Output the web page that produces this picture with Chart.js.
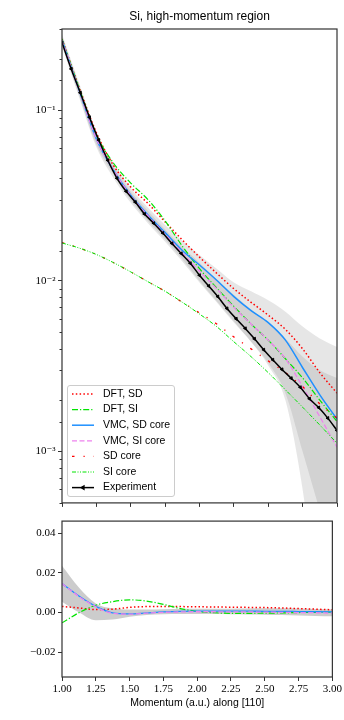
<!DOCTYPE html>
<html>
<head>
<meta charset="utf-8">
<script src="https://cdn.jsdelivr.net/npm/chart.js@4/dist/chart.umd.min.js"></script>
<style>
html, body { margin: 0; padding: 0; background: #fff; }
#wrap { position: relative; width: 344px; height: 720px; }
canvas { position: absolute; left: 0; }
#topChart { top: 0; }
#botChart { top: 512px; }
</style>
</head>
<body>
<div id="wrap">
  <canvas id="topChart" width="344" height="512"></canvas>
  <canvas id="botChart" width="344" height="208"></canvas>
</div>
<script>
// momentum grid used by the model curves (a.u.)
var xGrid = [1.0, 1.125, 1.25, 1.375, 1.5, 1.625, 1.75, 1.875, 2.0, 2.125, 2.25, 2.375, 2.5, 2.625, 2.75, 2.875, 3.0];

// top panel, log scale
var dftSD   = [0.262, 0.136, 0.074, 0.0475, 0.0355, 0.0285, 0.0222, 0.0174, 0.0138, 0.0111, 0.0090, 0.0075, 0.0063, 0.0052, 0.0040, 0.0029, 0.0022];
var dftSI   = [0.262, 0.135, 0.072, 0.049, 0.0375, 0.0300, 0.0225, 0.0160, 0.0118, 0.0091, 0.0071, 0.0056, 0.0045, 0.0035, 0.0027, 0.0020, 0.0015];
var vmcSD   = [0.258, 0.131, 0.068, 0.0445, 0.0318, 0.0244, 0.0192, 0.0151, 0.0124, 0.0101, 0.0081, 0.0067, 0.0057, 0.0045, 0.0031, 0.00215, 0.00155];
var vmcSI   = [0.258, 0.131, 0.068, 0.0445, 0.0316, 0.0241, 0.0188, 0.0146, 0.0114, 0.0090, 0.0070, 0.0056, 0.0045, 0.0035, 0.0024, 0.0016, 0.00106];
var sdCore  = [0.0168, 0.0156, 0.0143, 0.0128, 0.0113, 0.0099, 0.0087, 0.0075, 0.0065, 0.0056, 0.0047, 0.0040, 0.0034, 0.0029, 0.0024, 0.0019, 0.00157];
var siCore  = [0.0167, 0.0156, 0.0143, 0.0128, 0.0113, 0.0099, 0.0087, 0.0075, 0.0064, 0.0054, 0.0044, 0.0036, 0.0029, 0.0023, 0.00182, 0.00143, 0.00112];
var bandSDHi = [0.280, 0.144, 0.075, 0.049, 0.0350, 0.0270, 0.0213, 0.0172, 0.0142, 0.0118, 0.0098, 0.0087, 0.0077, 0.0066, 0.0054, 0.0046, 0.0041];
var bandSDLo = [0.238, 0.119, 0.061, 0.040, 0.0287, 0.0218, 0.0170, 0.0130, 0.0098, 0.0075, 0.0057, 0.0044, 0.0032, 0.0020, 0.0006, 0.0001, 0.00005];
var bandSIHi = [0.272, 0.139, 0.072, 0.047, 0.0335, 0.0258, 0.0200, 0.0158, 0.0128, 0.0102, 0.0083, 0.0068, 0.0057, 0.0046, 0.0036, 0.0030, 0.0027];
var bandSILo = [0.245, 0.122, 0.063, 0.042, 0.0297, 0.0225, 0.0175, 0.0134, 0.0100, 0.0076, 0.0058, 0.0044, 0.0033, 0.0022, 0.0010, 0.00045, 0.0002];

// measured profile
var expX = [1.000, 1.067, 1.133, 1.200, 1.267, 1.333, 1.400, 1.467, 1.533, 1.600, 1.667, 1.733, 1.800, 1.867, 1.933, 2.000,
            2.067, 2.133, 2.200, 2.267, 2.333, 2.400, 2.467, 2.533, 2.600, 2.667, 2.733, 2.800, 2.867, 2.933, 3.000];
var expY = [0.250, 0.175, 0.127, 0.091, 0.067, 0.051, 0.040, 0.0335, 0.029, 0.0247, 0.0218, 0.0191, 0.0166, 0.0145, 0.0127, 0.0108,
            0.00935, 0.0081, 0.0069, 0.0060, 0.00527, 0.00458, 0.00395, 0.00345, 0.00303, 0.00269, 0.00238, 0.00204, 0.00181, 0.00157, 0.00133];

// bottom panel, differences
var diffVmcSD = [0.0145, 0.0082, 0.0030, -0.0003, -0.0008, -0.0003, 0.0002, 0.0005, 0.0006, 0.0006, 0.0006, 0.0006, 0.0005, 0.0005, 0.0004, 0.0003, 0.0002];
var diffVmcSI = [0.0145, 0.0080, 0.0028, -0.0005, -0.0009, -0.0004, 0.0000, 0.0002, 0.0003, 0.0003, 0.0002, 0.0002, 0.0001, 0.0000, -0.0001, -0.0002, -0.0004];
var diffDftSD = [0.0030, 0.0022, 0.0014, 0.0016, 0.0025, 0.0029, 0.0030, 0.0029, 0.0028, 0.0027, 0.0026, 0.0025, 0.0024, 0.0022, 0.0019, 0.0016, 0.0013];
var diffDftSI = [-0.0053, -0.0002, 0.0036, 0.0054, 0.0063, 0.0057, 0.0040, 0.0019, 0.0005, -0.0002, -0.0005, -0.0005, -0.0004, -0.0003, -0.0001, 0.0000, 0.0001];
var diffBandHi = [0.0235, 0.0125, 0.0045, 0.0020, 0.0014, 0.0014, 0.0016, 0.0018, 0.0018, 0.0018, 0.0018, 0.0019, 0.0020, 0.0020, 0.0019, 0.0017, 0.0014];
var diffBandLo = [0.0054, 0.0000, -0.0040, -0.0036, -0.0022, -0.0014, -0.0010, -0.0009, -0.0009, -0.0009, -0.0010, -0.0011, -0.0012, -0.0014, -0.0016, -0.0018, -0.0020];

var xTicks = [1.0, 1.25, 1.5, 1.75, 2.0, 2.25, 2.5, 2.75, 3.0];
var legendNames = ["DFT, SD", "DFT, SI", "VMC, SD core", "VMC, SI core", "SD core", "SI core", "Experiment"];

var RED = "#ff0000", GREEN = "#00e400", BLUE = "#1e90ff", VIOLET = "#ee82ee", AXIS = "#333333";
var SANS = "'Liberation Sans', Arial, sans-serif";
var SERIF = "'Liberation Serif', 'DejaVu Serif', serif";

function pts(xs, ys){
    return xs.map(function(x, i){ return {x: x, y: ys[i]}; });
}

function curve(label, ys, color, dash, width, order){
    return {
        label: label, data: pts(xGrid, ys), borderColor: color, borderDash: dash, borderWidth: width,
        pointRadius: 0, fill: false, cubicInterpolationMode: "monotone", order: order
    };
}

function bandPair(hi, lo, color, order){
    return [
        {label: "_hi", data: pts(xGrid, hi), borderWidth: 0, pointRadius: 0, fill: "+1",
         backgroundColor: color, cubicInterpolationMode: "monotone", order: order},
        {label: "_lo", data: pts(xGrid, lo), borderWidth: 0, pointRadius: 0, fill: false,
         cubicInterpolationMode: "monotone", order: order + 1}
    ];
}

function isPow10(v){
    var l = Math.log10(v);
    return Math.abs(l - Math.round(l)) < 1e-6;
}

var sup = {"-": "\u207B", "1": "\u00B9", "2": "\u00B2", "3": "\u00B3", "4": "\u2074"};
function logLabel(v){
    if(!isPow10(v)) return "";
    var e = String(Math.round(Math.log10(v)));
    return "10" + e.split("").map(function(c){ return sup[c]; }).join("");
}

// box round the plot area + minor log ticks
var framePlugin = {
    id: "frame",
    afterDraw: function(chart){
        var a = chart.chartArea, ctx = chart.ctx;
        ctx.save();
        ctx.strokeStyle = AXIS;
        ctx.lineWidth = 1.2;
        ctx.strokeRect(a.left, a.top, a.right - a.left, a.bottom - a.top);
        var ys = chart.scales.y;
        if(ys.type === "logarithmic"){
            ctx.lineWidth = 1;
            ys.ticks.forEach(function(t){
                if(isPow10(t.value)) return;
                var py = Math.round(ys.getPixelForValue(t.value)) + 0.5;
                ctx.beginPath();
                ctx.moveTo(a.left - 2.5, py);
                ctx.lineTo(a.left, py);
                ctx.stroke();
            });
        }
        ctx.restore();
    }
};

var titlePlugin = {
    id: "plotTitle",
    afterDraw: function(chart){
        var a = chart.chartArea, ctx = chart.ctx;
        ctx.save();
        ctx.fillStyle = "#000";
        ctx.font = "12px " + SANS;
        ctx.textAlign = "center";
        ctx.textBaseline = "middle";
        ctx.fillText("Si, high-momentum region", (a.left + a.right) / 2, 17);
        ctx.restore();
    }
};

var legendPlugin = {
    id: "insideLegend",
    afterDraw: function(chart){
        var ctx = chart.ctx;
        ctx.save();
        ctx.beginPath();
        ctx.roundRect(67.5, 385.5, 107, 111, 2.5);
        ctx.fillStyle = "rgba(255,255,255,0.8)";
        ctx.fill();
        ctx.strokeStyle = "#cccccc";
        ctx.lineWidth = 1;
        ctx.stroke();
        legendNames.forEach(function(name, i){
            var ds = chart.data.datasets.find(function(d){ return d.label === name; });
            var y = 394 + i * 15.6;
            ctx.strokeStyle = ds.borderColor;
            ctx.lineWidth = ds.borderWidth;
            ctx.setLineDash(ds.borderDash || []);
            ctx.beginPath();
            ctx.moveTo(72, y);
            ctx.lineTo(94, y);
            ctx.stroke();
            ctx.setLineDash([]);
            if(ds.pointRadius > 0){
                ctx.fillStyle = ds.borderColor;
                Chart.helpers.drawPoint(ctx, {pointStyle: ds.pointStyle, rotation: ds.pointRotation,
                    radius: ds.pointRadius, borderWidth: 1}, 83, y);
            }
            ctx.fillStyle = "#000";
            ctx.font = "10.5px " + SANS;
            ctx.textAlign = "left";
            ctx.textBaseline = "middle";
            ctx.fillText(name, 103, y);
        });
        ctx.restore();
    }
};

var topDatasets = [
    {label: "Experiment", data: pts(expX, expY), borderColor: "#000", backgroundColor: "#000", borderWidth: 1.5,
     pointStyle: "triangle", pointRotation: 270, pointRadius: 1.8, pointBorderWidth: 1,
     fill: false, cubicInterpolationMode: "monotone", order: 0},
    curve("SI core", siCore, GREEN, [4, 1.5, 1, 1.5, 1, 1.5], 1, 1),
    curve("SD core", sdCore, RED, [2.5, 9, 1.2, 9], 1.3, 2),
    curve("VMC, SI core", vmcSI, VIOLET, [5, 2.5], 1.3, 3),
    curve("VMC, SD core", vmcSD, BLUE, [], 1.5, 4),
    curve("DFT, SI", dftSI, GREEN, [6, 2, 1.2, 2], 1.2, 5),
    curve("DFT, SD", dftSD, RED, [1.5, 2.3], 1.5, 6)
].concat(bandPair(bandSIHi, bandSILo, "rgba(128,128,128,0.2)", 10))
 .concat(bandPair(bandSDHi, bandSDLo, "rgba(128,128,128,0.2)", 12));

var axisX = {
    type: "linear", min: 1, max: 3,
    afterBuildTicks: function(s){ s.ticks = xTicks.map(function(v){ return {value: v}; }); },
    grid: {drawOnChartArea: false, tickLength: 4, tickColor: AXIS},
    border: {display: false}
};

new Chart("topChart", {
    type: "line",
    data: {datasets: topDatasets},
    plugins: [framePlugin, titlePlugin, legendPlugin],
    options: {
        responsive: false, animation: false, devicePixelRatio: 1, events: [],
        layout: {padding: {top: 29, right: 7, left: 0, bottom: 0}},
        plugins: {legend: {display: false}, tooltip: {enabled: false}},
        scales: {
            x: Object.assign({}, axisX, {
                ticks: {display: false},
                afterFit: function(s){ s.height = 8; }
            }),
            y: {
                type: "logarithmic", min: 5e-4, max: 0.3,
                ticks: {autoSkip: false, callback: logLabel, color: "#000", padding: 2.5,
                        font: {family: SERIF, size: 11}},
                grid: {drawOnChartArea: false, tickLength: 4,
                       tickColor: function(c){ return c.tick && isPow10(c.tick.value) ? AXIS : "rgba(0,0,0,0)"; }},
                border: {display: false},
                afterFit: function(s){ s.width = 62; }
            }
        }
    }
});

var botDatasets = [
    curve("VMC, SI core", diffVmcSI, VIOLET, [5, 2.5], 1.3, 1),
    curve("VMC, SD core", diffVmcSD, BLUE, [], 1.3, 2),
    curve("DFT, SI", diffDftSI, GREEN, [6, 2, 1.2, 2], 1.2, 3),
    curve("DFT, SD", diffDftSD, RED, [1.5, 2.3], 1.5, 4)
].concat(bandPair(diffBandHi, diffBandLo, "rgba(128,128,128,0.4)", 10));

new Chart("botChart", {
    type: "line",
    data: {datasets: botDatasets},
    plugins: [framePlugin],
    options: {
        responsive: false, animation: false, devicePixelRatio: 1, events: [],
        layout: {padding: {top: 6, right: 7, left: 0, bottom: 0}},
        plugins: {legend: {display: false}, tooltip: {enabled: false}},
        scales: {
            x: Object.assign({}, axisX, {
                ticks: {color: "#000", padding: 2, maxRotation: 0, autoSkip: false,
                        font: {family: SERIF, size: 11},
                        callback: function(v){ return Number(v).toFixed(2); }},
                title: {display: true, text: "Momentum (a.u.) along [110]", color: "#000",
                        font: {family: SANS, size: 10.5}, padding: {top: 0, bottom: 10.5}},
                afterFit: function(s){ s.height = 43; }
            }),
            y: {
                type: "linear", min: -0.0326, max: 0.046,
                ticks: {stepSize: 0.02, includeBounds: false, color: "#000", padding: 2.5,
                        font: {family: SERIF, size: 11},
                        callback: function(v){
                            var r = Math.round(v * 100) / 100;
                            return (r < 0 ? "\u2212" : "") + Math.abs(r).toFixed(2);
                        }},
                grid: {drawOnChartArea: false, tickLength: 4, tickColor: AXIS},
                border: {display: false},
                afterFit: function(s){ s.width = 62; }
            }
        }
    }
});
</script>
</body>
</html>
